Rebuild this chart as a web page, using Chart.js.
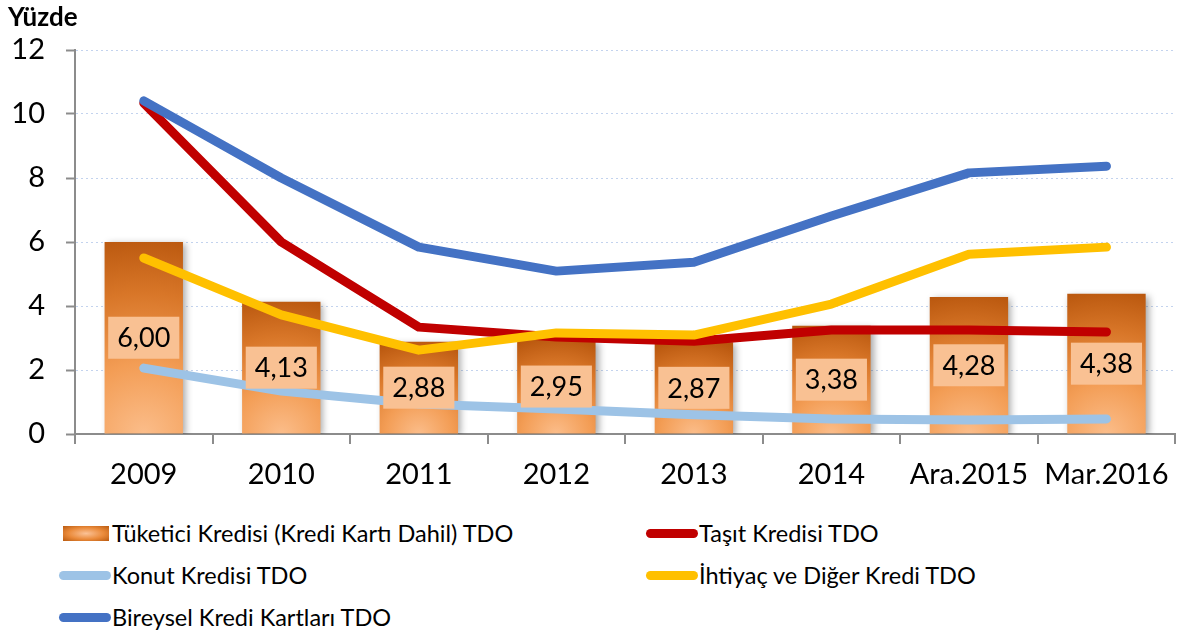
<!DOCTYPE html>
<html lang="tr">
<head>
    <meta charset="UTF-8">
    <title>TDO</title>
    <script src="https://cdn.jsdelivr.net/npm/chart.js"></script>
    <style>
        body { margin: 0; background: #fff; font-family: Lato, sans-serif; }
        #wrap { position: relative; width: 1182px; height: 636px; }
        #unit { position: absolute; left: 8px; top: 0px; font-weight: bold; font-size: 26px; }
        #legend { position: absolute; left: 59px; top: 512px; display: grid; grid-template-columns: 587px auto; }
        .item { display: flex; align-items: center; height: 42px; font-size: 23.5px; color: #000; }
        .sym { width: 52px; height: 9px; border-radius: 5px; margin-right: 1px; }
        .sym.bar { width: 46px; height: 15px; border-radius: 0; margin: 0 3px 0 4px;
            background: radial-gradient(ellipse at center, #fbc296 0%, #ea8a3a 55%, #b95a10 100%); }
    </style>
</head>
<body>
<div id="wrap">
    <canvas id="chart" width="1182" height="500"></canvas>
    <div id="unit">Yüzde</div>
    <div id="legend"></div>
</div>
<script>
    const categories = ['2009', '2010', '2011', '2012', '2013', '2014', 'Ara.2015', 'Mar.2016'];
    const tuketici = [6.00, 4.13, 2.88, 2.95, 2.87, 3.38, 4.28, 4.38];
    const tasit = [10.34, 6.00, 3.34, 3.03, 2.90, 3.25, 3.25, 3.19];
    const konut = [2.06, 1.34, 0.94, 0.78, 0.60, 0.47, 0.44, 0.47];
    const ihtiyac = [5.50, 3.72, 2.62, 3.16, 3.09, 4.06, 5.62, 5.84];
    const bireysel = [10.41, 8.00, 5.84, 5.09, 5.37, 6.81, 8.16, 8.37];
    const yTicks = [0, 2, 4, 6, 8, 10, 12];

    const FONT = 'Lato';

    // each bar gets its own gradient, dark on top and light at the bottom middle
    function barFill(c) {
        const chart = c.chart;
        const { ctx, chartArea, scales } = chart;
        if (!chartArea || c.type !== 'data') return '#e8853a';
        const x = scales.x.getPixelForValue(c.dataIndex);
        const top = scales.y.getPixelForValue(c.raw);
        const base = scales.y.getPixelForValue(0);
        const h = Math.max(base - top, 40);
        const g = ctx.createRadialGradient(x, base, 0, x, base, h * 1.05);
        g.addColorStop(0, '#fbbd8a');
        g.addColorStop(0.35, '#f39d55');
        g.addColorStop(0.7, '#d87628');
        g.addColorStop(1, '#b8560d');
        return g;
    }

    const barShadow = {
        id: 'barShadow',
        beforeDatasetDraw(chart, args) {
            if (args.index !== 0) return;
            const ctx = chart.ctx;
            ctx.save();
            ctx.shadowColor = 'rgba(0,0,0,0.35)';
            ctx.shadowBlur = 7;
            ctx.shadowOffsetX = 3;
            ctx.shadowOffsetY = 2;
        },
        afterDatasetDraw(chart, args) {
            if (args.index === 0) chart.ctx.restore();
        }
    };

    const barLabels = {
        id: 'barLabels',
        afterDatasetsDraw(chart) {
            const ctx = chart.ctx;
            const meta = chart.getDatasetMeta(0);
            ctx.save();
            ctx.font = '27px ' + FONT;
            ctx.textAlign = 'center';
            ctx.textBaseline = 'middle';
            meta.data.forEach((bar, i) => {
                const txt = tuketici[i].toFixed(2).replace('.', ',');
                const w = ctx.measureText(txt).width + 18;
                const h = 42;
                const cy = (bar.y + bar.base) / 2;
                ctx.fillStyle = '#f9c193';
                ctx.fillRect(bar.x - w / 2, cy - h / 2, w, h);
                ctx.fillStyle = '#000';
                ctx.fillText(txt, bar.x, cy + 1);
            });
            ctx.restore();
        }
    };

    const lineStyle = {
        type: 'line',
        borderWidth: 9,
        pointRadius: 0,
        tension: 0,
        borderCapStyle: 'round',
        borderJoinStyle: 'round',
        fill: false
    };

    const datasets = [
        { label: 'Tüketici Kredisi (Kredi Kartı Dahil) TDO', data: tuketici, backgroundColor: barFill,
          barPercentage: 0.57, categoryPercentage: 1, order: 10 },
        { ...lineStyle, label: 'Taşıt Kredisi TDO', data: tasit, borderColor: '#c00000', order: 3 },
        { ...lineStyle, label: 'Konut Kredisi TDO', data: konut, borderColor: '#9dc3e6', order: 4 },
        { ...lineStyle, label: 'İhtiyaç ve Diğer Kredi TDO', data: ihtiyac, borderColor: '#ffc000', order: 2 },
        { ...lineStyle, label: 'Bireysel Kredi Kartları TDO', data: bireysel, borderColor: '#4472c4', order: 1 }
    ];

    const chart = new Chart(document.getElementById('chart'), {
        type: 'bar',
        data: { labels: categories, datasets: datasets },
        options: {
            responsive: false,
            animation: false,
            layout: { padding: { top: 50, right: 5, left: 0, bottom: 0 } },
            plugins: { legend: { display: false }, tooltip: { enabled: false } },
            scales: {
                x: {
                    afterFit: s => { s.height = 66; },
                    grid: { drawOnChartArea: false, drawTicks: true, tickLength: 10, offset: true,
                            color: '#8c8c8c', lineWidth: 2 },
                    border: { color: '#8c8c8c', width: 2 },
                    ticks: { color: '#000', font: { family: FONT, size: 29 }, padding: 13, maxRotation: 0 }
                },
                y: {
                    min: 0, max: 12,
                    afterFit: s => { s.width = 75; },
                    afterBuildTicks: s => { s.ticks = yTicks.map(v => ({ value: v })); },
                    grid: { color: '#c3d3ee', lineWidth: 1, tickColor: '#8c8c8c', tickWidth: 2, tickLength: 9 },
                    border: { color: '#8c8c8c', width: 2, dash: [2, 3] },
                    ticks: { color: '#000', font: { family: FONT, size: 29 }, padding: 21 }
                }
            }
        },
        plugins: [barShadow, barLabels]
    });

    // legend in two columns, same order as the source
    const legend = document.getElementById('legend');
    datasets.forEach(ds => {
        const item = document.createElement('div');
        item.className = 'item';
        const sym = document.createElement('span');
        if (ds.type === 'line') {
            sym.className = 'sym';
            sym.style.background = ds.borderColor;
        } else {
            sym.className = 'sym bar';
        }
        const txt = document.createElement('span');
        txt.textContent = ds.label;
        item.appendChild(sym);
        item.appendChild(txt);
        legend.appendChild(item);
    });
</script>
</body>
</html>
